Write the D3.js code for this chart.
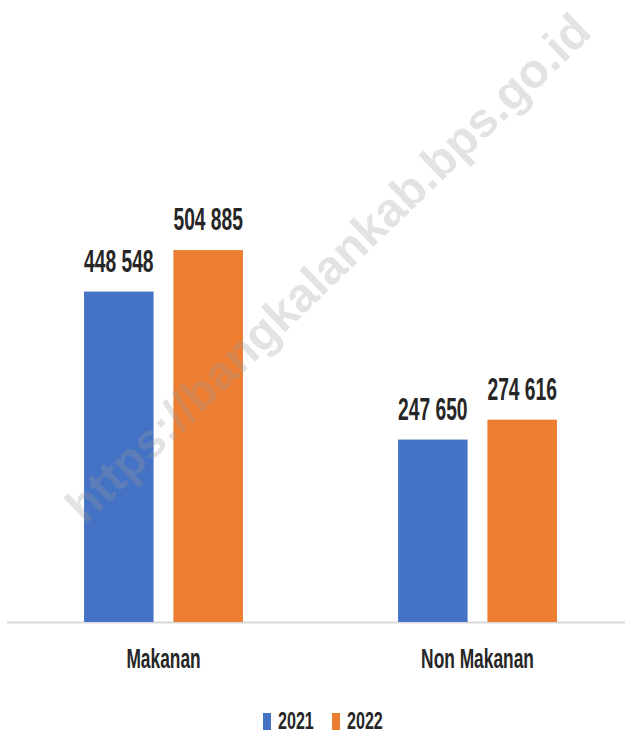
<!DOCTYPE html>
<html>
<head>
<meta charset="utf-8">
<script src="https://cdn.jsdelivr.net/npm/d3@7"></script>
<style>
  body { margin: 0; background: #fff; }
  text { font-family: "Liberation Sans", Arial, sans-serif; font-weight: bold; }
</style>
</head>
<body>
<script>
// data
var categories = ["Makanan", "Non Makanan"];
var series = ["2021", "2022"];
var values2021 = [448548, 247650];
var values2022 = [504885, 274616];
var valueLabels2021 = ["448 548", "247 650"];
var valueLabels2022 = ["504 885", "274 616"];
var colors = ["#4472C4", "#ED7D31"];

var width = 625, height = 735;
var squeeze = 0.62; // condensed look of the labels

var svg = d3.select("body").append("svg")
    .attr("width", width)
    .attr("height", height);

var x0 = d3.scaleBand().domain(categories)
    .range([6.5, 634.5])
    .paddingInner(0.494)
    .paddingOuter(0.247);

var x1 = d3.scaleBand().domain(series)
    .range([0, x0.bandwidth()])
    .paddingInner(0.222)
    .paddingOuter(0);

var y = d3.scaleLinear().domain([0, 600000]).range([622, 180]);

var color = d3.scaleOrdinal().domain(series).range(colors);

// baseline
svg.append("line")
    .attr("x1", 7).attr("x2", width)
    .attr("y1", y(0) + 0.5).attr("y2", y(0) + 0.5)
    .attr("stroke", "#d9d9d9")
    .attr("stroke-width", 2);

var rows = [];
categories.forEach(function (c, i) {
    rows.push({cat: c, s: "2021", v: values2021[i], label: valueLabels2021[i]});
    rows.push({cat: c, s: "2022", v: values2022[i], label: valueLabels2022[i]});
});

var bars = svg.append("g").attr("id", "bars");
bars.selectAll("rect")
    .data(rows).enter()
    .append("rect")
    .attr("x", function (d) { return x0(d.cat) + x1(d.s); })
    .attr("y", function (d) { return y(d.v); })
    .attr("width", x1.bandwidth())
    .attr("height", function (d) { return y(0) - y(d.v); })
    .attr("fill", function (d) { return color(d.s); });

// value labels
bars.selectAll("text")
    .data(rows).enter()
    .append("text")
    .attr("transform", function (d) {
        var cx = x0(d.cat) + x1(d.s) + x1.bandwidth() / 2;
        return "translate(" + cx + "," + (y(d.v) - 20) + ") scale(" + squeeze + ",1)";
    })
    .attr("text-anchor", "middle")
    .attr("font-size", 31)
    .attr("fill", "#262626")
    .text(function (d) { return d.label; });

// category labels
svg.append("g").selectAll("text")
    .data(categories).enter()
    .append("text")
    .attr("transform", function (d) {
        return "translate(" + (x0(d) + x0.bandwidth() / 2) + ",668) scale(" + squeeze + ",1)";
    })
    .attr("text-anchor", "middle")
    .attr("font-size", 28)
    .attr("fill", "#262626")
    .text(function (d) { return d; });

// legend
var legendX = d3.scaleOrdinal().domain(series).range([263, 332]);
var legend = svg.append("g").selectAll("g")
    .data(series).enter()
    .append("g")
    .attr("transform", function (d) { return "translate(" + legendX(d) + ",713)"; });
legend.append("rect")
    .attr("width", 8).attr("height", 17)
    .attr("fill", function (d) { return color(d); });
legend.append("text")
    .attr("transform", "translate(15,16) scale(0.7,1)")
    .attr("font-size", 23)
    .attr("fill", "#262626")
    .text(function (d) { return d; });

// watermark
svg.append("text")
    .attr("transform", "translate(328,268) rotate(-44)")
    .attr("text-anchor", "middle")
    .attr("dominant-baseline", "central")
    .attr("font-size", 48)
    .attr("fill", "#9a9a9a")
    .attr("fill-opacity", 0.28)
    .text("https://bangkalankab.bps.go.id");
</script>
</body>
</html>
